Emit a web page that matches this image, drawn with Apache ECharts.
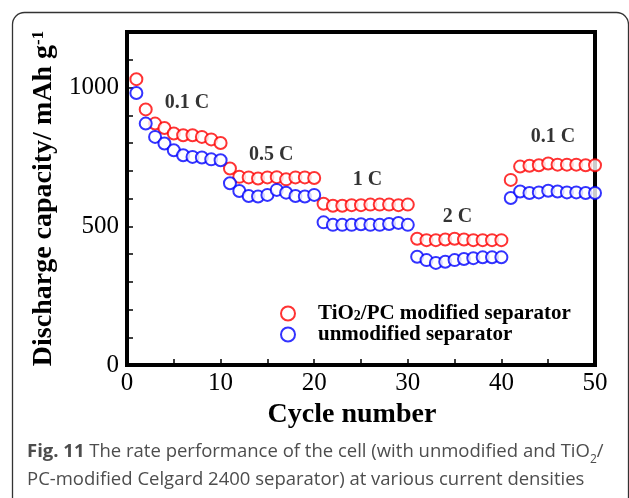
<!DOCTYPE html>
<html>
<head>
<meta charset="utf-8">
<script src="https://cdn.jsdelivr.net/npm/echarts@6/dist/echarts.min.js"></script>
<style>
html,body{margin:0;padding:0;background:#fff;}
#c{width:629px;height:498px;}
</style>
</head>
<body>
<div id="c"></div>
<script>
const cycles = [];
for (let i = 1; i <= 50; i++) cycles.push(i);
const modified = [1030, 921, 870, 854, 834, 828, 828, 822, 813, 800,
  708, 678, 676, 672, 676, 677, 669, 676, 676, 674,
  581, 574, 574, 576, 576, 578, 578, 578, 576, 578,
  455, 450, 450, 452, 455, 452, 450, 450, 450, 450,
  667, 715, 718, 720, 726, 722, 722, 722, 720, 720];
const unmodified = [980, 870, 822, 798, 774, 756, 750, 748, 741, 738,
  655, 627, 609, 607, 613, 631, 621, 609, 607, 613,
  514, 505, 505, 505, 507, 505, 505, 508, 512, 505,
  390, 378, 368, 372, 378, 382, 385, 388, 388, 388,
  602, 625, 620, 622, 628, 625, 622, 622, 620, 620];
const rateLabels = [[6.4, 943, '0.1 C'], [15.4, 756, '0.5 C'], [25.7, 667, '1 C'], [35.3, 534, '2 C'], [45.5, 824, '0.1 C']];
const xTicks = [0, 10, 20, 30, 40, 50];
const yTicks = [0, 500, 1000];

const serif = '"Liberation Serif", "Times New Roman", serif';
const chart = echarts.init(document.getElementById('c'));
const pair = a => a.map((v, i) => [cycles[i], v]);

chart.setOption({
  backgroundColor: '#fff',
  animation: false,
  grid: {left: 127, right: 34, top: 32, bottom: 133, show: true, borderColor: '#000', borderWidth: 4, backgroundColor: 'transparent'},
  xAxis: {
    type: 'value', min: 0, max: 50, interval: 5,
    name: 'Cycle number', nameLocation: 'middle', nameGap: 31,
    nameTextStyle: {fontFamily: serif, fontWeight: 'bold', fontSize: 28, color: '#000', padding: [0, 18, 0, 0]},
    axisLine: {lineStyle: {color: '#000', width: 4}},
    axisTick: {inside: true, length: 6, lineStyle: {color: '#000', width: 1.5}},
    axisLabel: {fontFamily: serif, fontSize: 25, color: '#000', margin: 6,
      formatter: v => xTicks.includes(v) ? String(v) : ''},
    splitLine: {show: false}
  },
  yAxis: {
    type: 'value', min: 0, max: 1200, interval: 100,
    name: '{a|Discharge capacity/ mAh g}{s|-1}', nameLocation: 'middle', nameGap: 62,
    nameTextStyle: {fontFamily: serif, fontWeight: 'bold', fontSize: 28, color: '#000',
      rich: {a: {fontFamily: serif, fontWeight: 'bold', fontSize: 28, color: '#000'},
             s: {fontFamily: serif, fontWeight: 'bold', fontSize: 17, color: '#000', verticalAlign: 'top'}}},
    axisLine: {lineStyle: {color: '#000', width: 4}},
    axisTick: {inside: true, length: 6, lineStyle: {color: '#000', width: 1.5}},
    axisLabel: {fontFamily: serif, fontSize: 25, color: '#000', margin: 8,
      formatter: v => yTicks.includes(v) ? String(v) : ''},
    splitLine: {show: false}
  },
  legend: {
    orient: 'vertical', left: 280, top: 303, padding: 0, itemGap: 0, itemWidth: 14, itemHeight: 14,
    data: ['TiO2/PC modified separator', 'unmodified separator'],
    formatter: n => n === 'unmodified separator' ? '{a|unmodified separator}' : '{a|TiO}{b|2}{a|/PC modified separator}',
    textStyle: {fontFamily: serif, fontWeight: 'bold', fontSize: 21, color: '#000', padding: [0, 0, 0, 18],
      rich: {a: {fontFamily: serif, fontWeight: 'bold', fontSize: 21, color: '#000', lineHeight: 20},
             b: {fontFamily: serif, fontWeight: 'bold', fontSize: 14, color: '#000', verticalAlign: 'bottom', lineHeight: 20, padding: [6, 0, 0, 0]}}}
  },
  series: [
    {name: 'TiO2/PC modified separator', type: 'scatter', symbol: 'circle', symbolSize: 12, clip: false,
     itemStyle: {color: '#fff', borderColor: '#ff0000', borderWidth: 2}, data: pair(modified)},
    {name: 'unmodified separator', type: 'scatter', symbol: 'circle', symbolSize: 12, clip: false,
     itemStyle: {color: '#fff', borderColor: '#0000ff', borderWidth: 2}, data: pair(unmodified)},
    {type: 'scatter', symbolSize: 0, silent: true, data: rateLabels.map(r => ({value: [r[0], r[1]], name: r[2]})),
     label: {show: true, position: 'inside', formatter: p => p.name, fontFamily: serif, fontWeight: 'bold', fontSize: 20, color: '#000'}}
  ],
  graphic: [
    {type: 'rect', left: 10, top: 10, shape: {width: 616, height: 500, r: 12}, style: {fill: 'none', stroke: '#333', lineWidth: 1.3}, z: -1},
    {type: 'text', left: 27, top: 438, style: {
      text: '{b|Fig. 11} The rate performance of the cell (with unmodified and TiO{s|2}/\nPC-modified Celgard 2400 separator) at various current densities',
      fontFamily: '"Open Sans", sans-serif', fontSize: 18.5, fill: '#4d4d4d', lineHeight: 28,
      rich: {b: {fontFamily: '"Open Sans", sans-serif', fontWeight: 'bold', fontSize: 18.5, fill: '#4d4d4d', lineHeight: 28},
             s: {fontFamily: '"Open Sans", sans-serif', fontSize: 12, fill: '#4d4d4d', verticalAlign: 'bottom', lineHeight: 28}}}}
  ]
});
</script>
</body>
</html>
